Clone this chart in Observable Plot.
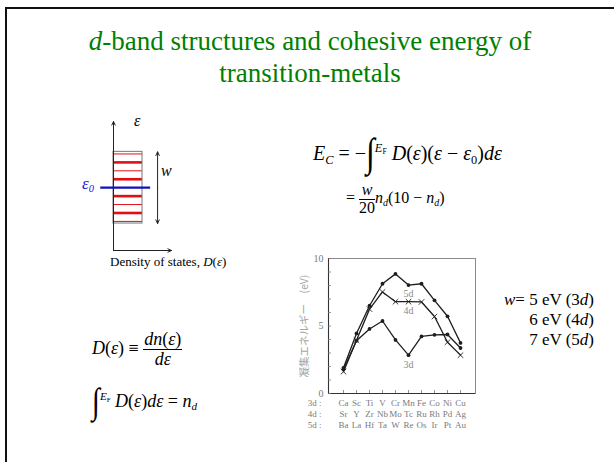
<!DOCTYPE html>
<html>
<head>
<meta charset="utf-8">
<script src="https://cdn.jsdelivr.net/npm/d3@7"></script>
<script src="https://cdn.jsdelivr.net/npm/@observablehq/plot@0.6"></script>
<style>
html, body { margin:0; padding:0; background:#fff; overflow:hidden; }
#slide { position:relative; width:614px; height:462px; overflow:hidden; background:#fff;
  font-family:"Liberation Serif","Times New Roman",serif; color:#000; }
#border { position:absolute; left:5px; top:7px; width:800px; height:800px; border:2px solid #111; box-sizing:border-box; }
.abs { position:absolute; white-space:nowrap; font-family:"Liberation Serif","Times New Roman",serif; }
.sub { font-size:0.62em; position:relative; top:0.3em; }
.sup { font-size:0.62em; position:relative; top:-0.65em; }
.int { display:inline-block; font-size:1.6em; line-height:0; transform:scaleY(1.25); position:relative; top:0.1em; }
.frac { display:inline-block; vertical-align:middle; text-align:center; line-height:1.05; }
.frac .num { display:block; border-bottom:1px solid #000; padding:0 1px; }
.frac .den { display:block; }
#chart, #dos { position:absolute; }
</style>
</head>
<body>
<div id="slide">
  <div id="border"></div>
  <div class="abs" style="left:3px;top:25px;width:614px;text-align:center;font-size:27px;line-height:32px;color:#008000;"><i>d</i>-band structures and cohesive energy of<br>transition-metals</div>

  <div id="dos" style="left:75px;top:110px;"></div>
  <div class="abs" style="left:134px;top:113px;font-size:16px;line-height:16px;"><i>ε</i></div>
  <div class="abs" style="left:161px;top:163px;font-size:16px;line-height:16px;"><i>w</i></div>
  <div class="abs" style="left:82px;top:175px;font-size:17px;line-height:17px;color:#1a1acc;"><i>ε<span class="sub">0</span></i></div>
  <div class="abs" style="left:110px;top:255px;font-size:13px;line-height:13px;">Density of states, <i>D</i>(<i>ε</i>)</div>

  <div class="abs" style="left:313px;top:143px;font-size:20px;line-height:20px;"><i>E</i><span class="sub"><i>C</i></span> = −<span class="int">∫</span><span class="sup"><i>E</i><span class="sub">F</span></span> <i>D</i>(<i>ε</i>)(<i>ε</i> − <i>ε</i><span class="sub">0</span>)<i>dε</i></div>
  <div class="abs" style="left:346px;top:182px;font-size:16px;line-height:16px;">= <span class="frac"><span class="num"><i>w</i></span><span class="den">20</span></span><i>n</i><span class="sub"><i>d</i></span>(10 − <i>n</i><span class="sub"><i>d</i></span>)</div>

  <div class="abs" style="left:92px;top:330px;font-size:18px;line-height:18px;"><i>D</i>(<i>ε</i>) ≡ <span class="frac"><span class="num"><i>dn</i>(<i>ε</i>)</span><span class="den"><i>dε</i></span></span></div>
  <div class="abs" style="left:92px;top:392px;font-size:18px;line-height:18px;"><span class="int">∫</span><span class="sup"><i>E</i><span class="sub">F</span></span> <i>D</i>(<i>ε</i>)<i>dε</i> = <i>n</i><span class="sub"><i>d</i></span></div>

  <div id="chart" style="left:290px;top:250px;"></div>
  <div class="abs" style="right:20px;top:290px;font-size:17px;line-height:20px;text-align:right;"><i>w</i>= 5 eV (3<i>d</i>)<br>6 eV (4<i>d</i>)<br>7 eV (5<i>d</i>)</div>
</div>
<script>
// ---- data: cohesive energies (eV) ----
const metals3d = ["Ca","Sc","Ti","V","Cr","Mn","Fe","Co","Ni","Cu"];
const metals4d = ["Sr","Y","Zr","Nb","Mo","Tc","Ru","Rh","Pd","Ag"];
const metals5d = ["Ba","La","Hf","Ta","W","Re","Os","Ir","Pt","Au"];
const energy3d = [1.8, 3.9, 4.78, 5.37, 3.97, 2.84, 4.23, 4.35, 4.37, 3.37];
const energy4d = [1.62, 3.95, 6.25, 7.52, 6.8, 6.8, 6.78, 5.7, 3.8, 2.84];
const energy5d = [1.9, 4.45, 6.5, 8.13, 8.86, 8.03, 8.13, 6.9, 5.72, 3.75];
const seriesNames = ["3d", "4d", "5d"];
const seriesLabelY = [2.15, 6.15, 7.4];
const rowPrefixes = ["3d :", "4d :", "5d :"];
const yTickValues = [0,1,2,3,4,5,6,7,8,9,10];
const yTickLabels = [0, 5, 10];
const yAxisLabel = "凝集エネルギー　(eV)";

// ---- DOS schematic (energies in units of level spacing, relative to ε0) ----
const dosLevels = [-4, -3, -2, -1, 1, 2, 3, 4];
const dosBand = [{dos: 0.5, low: -4.25, high: 4.25}];
const dosDomainY = [-7.45, 7.85];

// ---------------- cohesive energy chart ----------------
const rows = [];
[energy3d, energy4d, energy5d].forEach((vals, s) => {
  vals.forEach((v, i) => rows.push({series: seriesNames[s], metal: metals3d[i], energy: v}));
});
const labels = seriesNames.map((n, i) => ({name: n, y: seriesLabelY[i]}));

const W = 200, H = 185, mL = 38, mR = 15, mT = 8, mB = 42;
const chart = Plot.plot({
  width: W, height: H,
  marginLeft: mL, marginRight: mR, marginTop: mT, marginBottom: mB,
  style: {fontFamily: "Liberation Serif, Times New Roman, serif", fontSize: "9px", color: "#7a7a7a", background: "transparent", overflow: "visible"},
  x: {type: "point", domain: metals3d, padding: 1, axis: null},
  y: {domain: [0, 10], axis: null},
  marks: [
    Plot.frame({stroke: "#8a8a8a", strokeWidth: 1}),
    Plot.frame({anchor: "left", stroke: "#333", strokeWidth: 1.1}),
    Plot.ruleY([0], {stroke: "#333", strokeWidth: 1.1}),
    Plot.tickY(yTickValues, {y: d => d, insetRight: W - mL - mR - 3, stroke: "#777", strokeWidth: 0.8}),
    Plot.tickX(metals3d, {x: d => d, insetTop: H - mT - mB - 3, stroke: "#777", strokeWidth: 0.8}),
    Plot.axisY({ticks: yTickLabels, tickSize: 0, tickPadding: 5, label: null, fontSize: 10}),
    Plot.axisX({ticks: metals3d, tickSize: 0, tickPadding: 5, label: null, lineHeight: 1.2, fontSize: 9,
      tickFormat: d => { const i = metals3d.indexOf(d); return `${d}\n${metals4d[i]}\n${metals5d[i]}`; }}),
    Plot.text([rowPrefixes.join("\n")], {x: () => metals3d[0], frameAnchor: "bottom", lineAnchor: "top",
      dy: 5, dx: -22, textAnchor: "end", lineHeight: 1.2, fontSize: 9, fill: "#7a7a7a"}),
    Plot.text([yAxisLabel], {frameAnchor: "left", textAnchor: "middle", rotate: -90, dx: -24, fill: "#a5a5a5", fontSize: 10.5,
      fontFamily: "Noto Sans CJK JP"}),
    Plot.line(rows, {x: "metal", y: "energy", z: "series", stroke: "#1e1e1e", strokeWidth: 1.3}),
    Plot.dot(rows.filter(d => d.series !== "4d"), {x: "metal", y: "energy", r: 1.9, fill: "#1e1e1e"}),
    Plot.dot(rows.filter(d => d.series === "4d"), {x: "metal", y: "energy", symbol: "times", r: 2.6, stroke: "#1e1e1e", strokeWidth: 0.9}),
    Plot.text(labels, {x: () => metals3d[5], y: "y", text: "name", fill: "#8a8a8a", fontSize: 10})
  ]
});
document.getElementById("chart").appendChild(chart);

// ---------------- DOS schematic ----------------
const dW = 100, dH = 144;
const [yLo, yHi] = dosDomainY;
const thick = dosLevels.filter(d => Math.abs(d) % 2 === 1);
const thin = dosLevels.filter(d => Math.abs(d) % 2 === 0);
const band = dosBand[0];
const dos = Plot.plot({
  width: dW, height: dH,
  marginLeft: 38, marginRight: 4, marginTop: 11, marginBottom: 4,
  style: {background: "transparent", overflow: "visible"},
  x: {domain: [0, 1], axis: null},
  y: {domain: dosDomainY, axis: null},
  marks: [
    Plot.ruleY(thin, {y: d => d, x1: 0, x2: band.dos, stroke: "#e01010", strokeWidth: 1}),
    Plot.ruleY(thick, {y: d => d, x1: 0, x2: band.dos, stroke: "#e01010", strokeWidth: 2.6}),
    Plot.rect(dosBand, {x1: 0, x2: "dos", y1: "low", y2: "high", fill: "none", stroke: "#777", strokeWidth: 1}),
    Plot.ruleY([0], {y: d => d, x1: -0.22, x2: 0.64, stroke: "#1010c0", strokeWidth: 2.2}),
    Plot.arrow([band], {x1: 0, y1: yLo, x2: 0, y2: yHi, stroke: "#222", strokeWidth: 1, headLength: 6, headAngle: 50}),
    Plot.arrow([band], {x1: 0, y1: yLo, x2: 1, y2: yLo, stroke: "#222", strokeWidth: 1, headLength: 6, headAngle: 50}),
    Plot.arrow([band], {x1: 0.76, y1: 0, x2: 0.76, y2: "high", stroke: "#222", strokeWidth: 1, headLength: 6, headAngle: 50}),
    Plot.arrow([band], {x1: 0.76, y1: 0, x2: 0.76, y2: "low", stroke: "#222", strokeWidth: 1, headLength: 6, headAngle: 50})
  ]
});
document.getElementById("dos").appendChild(dos);
</script>
</body>
</html>
